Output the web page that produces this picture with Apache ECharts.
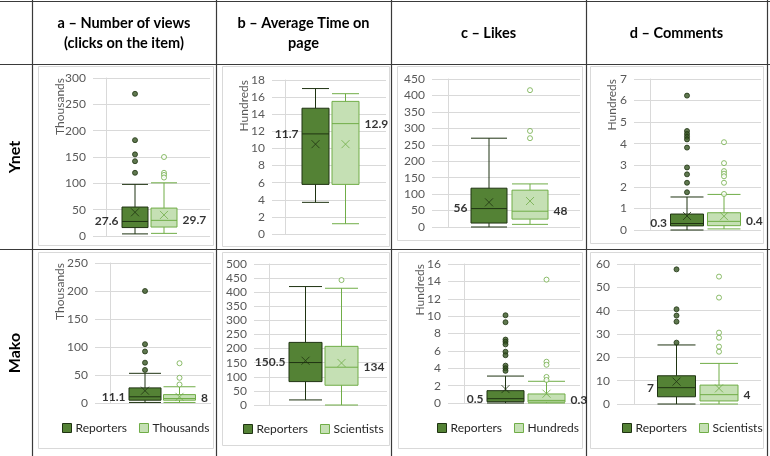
<!DOCTYPE html>
<html>
<head>
<meta charset="utf-8">
<script src="https://cdn.jsdelivr.net/npm/echarts@6/dist/echarts.min.js"></script>
<style>
html, body { margin: 0; padding: 0; background: #fff; }
#chart { width: 770px; height: 456px; }
</style>
</head>
<body>
<div id="chart"></div>
<script>
var siteNames = ['Ynet', 'Mako'];
var columnTitles = ['a – Number of views\n(clicks on the item)', 'b – Average Time on\npage', 'c – Likes', 'd – Comments'];

// box values are [min, Q1, median, Q3, max]: reporters first, scientists second
var ynetViewsBox = [[4, 16, 27.6, 55, 98], [5, 17, 29.7, 53, 101]];
var ynetViewsMean = [45, 40];
var ynetViewsOutRep = [270, 182, 155, 142, 120];
var ynetViewsOutSci = [150, 120, 116, 111];

var ynetTimeBox = [[3.7, 5.8, 11.7, 14.7, 17.0], [1.2, 5.8, 12.9, 15.5, 16.4]];
var ynetTimeMean = [10.5, 10.5];
var ynetTimeOutRep = [];
var ynetTimeOutSci = [];

var ynetLikesBox = [[0, 12, 56, 118, 270], [8, 24, 48, 112, 131]];
var ynetLikesMean = [75, 79];
var ynetLikesOutRep = [];
var ynetLikesOutSci = [416, 292, 270];

var ynetCommBox = [[0, 0.19, 0.3, 0.74, 1.53], [0.05, 0.2, 0.4, 0.8, 1.65]];
var ynetCommMean = [0.65, 0.64];
var ynetCommOutRep = [6.23, 4.59, 4.45, 4.32, 4.2, 3.82, 2.9, 2.58, 2.19, 1.75];
var ynetCommOutSci = [4.07, 3.1, 2.73, 2.61, 2.49, 2.19, 1.67];

var makoViewsBox = [[1, 5, 11.1, 27, 53], [1, 5, 8, 15, 29]];
var makoViewsMean = [22, 11];
var makoViewsOutRep = [200, 105, 92, 72, 59];
var makoViewsOutSci = [71, 45, 33];

var makoTimeBox = [[18, 83, 150.5, 222, 420], [0, 70, 134, 208, 414]];
var makoTimeMean = [157, 149];
var makoTimeOutRep = [];
var makoTimeOutSci = [443];

var makoLikesBox = [[0, 0.15, 0.5, 1.42, 3.1], [0, 0.1, 0.3, 1.04, 2.5]];
var makoLikesMean = [1.6, 1.07];
var makoLikesOutRep = [10.1, 9.3, 7.3, 7.05, 6.75, 5.9, 5.5, 4.3, 4.0, 3.7];
var makoLikesOutSci = [14.2, 4.75, 4.4, 3.0, 2.65];

var makoCommBox = [[0, 3.1, 7, 12.1, 25.3], [0, 1.3, 4, 8.1, 17.4]];
var makoCommMean = [9.6, 6.7];
var makoCommOutRep = [57.7, 40.6, 37.9, 35.3, 26.3];
var makoCommOutSci = [54.6, 45.6, 30.6, 28.4, 24.6, 22.4];

var darkFill = '#548235', darkLine = '#1f3312';
var lightFill = '#c5e0b4', lightLine = '#70ad47';
var font = 'Lato';

// plot = [left, top, right, bottom] in px, centers = box centres, area = chart frame
var panels = [
    {box: ynetViewsBox, mean: ynetViewsMean, out: [ynetViewsOutRep, ynetViewsOutSci], yMax: 300, yStep: 50,
     unit: 'Thousands', plot: [93, 78, 210, 236], centers: [135, 164], bw: 26, area: [38, 66, 213, 245]},
    {box: ynetTimeBox, mean: ynetTimeMean, out: [ynetTimeOutRep, ynetTimeOutSci], yMax: 18, yStep: 2,
     unit: 'Hundreds', plot: [272, 80, 386, 234], centers: [315.5, 345.5], bw: 27, area: [222, 66, 389, 246]},
    {box: ynetLikesBox, mean: ynetLikesMean, out: [ynetLikesOutRep, ynetLikesOutSci], yMax: 450, yStep: 50,
     unit: '', plot: [432, 79, 580, 227], centers: [489, 530], bw: 36, area: [397, 66, 582, 240]},
    {box: ynetCommBox, mean: ynetCommMean, out: [ynetCommOutRep, ynetCommOutSci], yMax: 7, yStep: 1,
     unit: 'Hundreds', plot: [634, 79, 761, 230], centers: [687, 724], bw: 33, area: [590, 66, 763, 243]},
    {box: makoViewsBox, mean: makoViewsMean, out: [makoViewsOutRep, makoViewsOutSci], yMax: 250, yStep: 50,
     unit: 'Thousands', plot: [95, 263, 211, 403], centers: [145, 179.5], bw: 32, area: [38, 252, 213, 448],
     legend: [62, 422], sciName: 'Thousands'},
    {box: makoTimeBox, mean: makoTimeMean, out: [makoTimeOutRep, makoTimeOutSci], yMax: 500, yStep: 50,
     unit: '', plot: [254, 264, 387, 405], centers: [305.5, 341.5], bw: 33, area: [222, 252, 389, 445],
     legend: [243, 423], sciName: 'Scientists'},
    {box: makoLikesBox, mean: makoLikesMean, out: [makoLikesOutRep, makoLikesOutSci], yMax: 16, yStep: 2,
     unit: 'Hundreds', plot: [448, 264, 580, 403], centers: [505.5, 546.5], bw: 37, area: [398, 252, 582, 448],
     legend: [437, 422], sciName: 'Hundreds'},
    {box: makoCommBox, mean: makoCommMean, out: [makoCommOutRep, makoCommOutSci], yMax: 60, yStep: 10,
     unit: '', plot: [617, 264, 761, 404], centers: [676.5, 719], bw: 38, area: [590, 252, 763, 448],
     legend: [622, 422], sciName: 'Scientists'}
];

var grids = [], xAxes = [], yAxes = [], series = [], legends = [], graphics = [];

panels.forEach(function (p, i) {
    var unitPx = p.centers[1] - p.centers[0];
    var xMin = 1 - (p.centers[0] - p.plot[0]) / unitPx;
    var xMax = 1 + (p.plot[2] - p.centers[0]) / unitPx;
    var sciName = p.sciName || 'Scientists';

    grids.push({left: p.plot[0], top: p.plot[1], width: p.plot[2] - p.plot[0], height: p.plot[3] - p.plot[1]});
    for (var k = 0; k < 2; k++) {
        xAxes.push({gridIndex: i, type: 'value', min: xMin, max: xMax, show: false});
    }
    yAxes.push({
        gridIndex: i, type: 'value', min: 0, max: p.yMax, interval: p.yStep,
        axisLine: {show: true, lineStyle: {color: '#d9d9d9'}},
        axisTick: {show: false},
        splitLine: {show: true, lineStyle: {color: '#d9d9d9', width: 1}},
        axisLabel: {color: '#595959', fontFamily: font, fontSize: 12, margin: 7}
    });

    var styles = [
        {name: 'Reporters', fill: darkFill, line: darkLine, x: 1, outFill: '#375623'},
        {name: sciName, fill: lightFill, line: lightLine, x: 2, outFill: '#ffffff'}
    ];
    styles.forEach(function (s, j) {
        var xi = 2 * i + j;
        series.push({
            type: 'boxplot', name: s.name, xAxisIndex: xi, yAxisIndex: i,
            boxWidth: [p.bw, p.bw], silent: true, z: 2,
            itemStyle: {color: s.fill, borderColor: s.line, borderWidth: 1},
            data: [[s.x].concat(p.box[j])]
        });
        series.push({
            type: 'scatter', xAxisIndex: xi, yAxisIndex: i, silent: true, z: 3,
            symbol: 'circle', symbolSize: 5,
            itemStyle: {color: s.outFill, borderColor: s.line, borderWidth: 1},
            data: p.out[j].map(function (v) { return [s.x, v]; })
        });
        series.push({
            type: 'scatter', xAxisIndex: xi, yAxisIndex: i, silent: true, z: 4,
            symbol: 'path://M0,0L10,10M10,0L0,10', symbolSize: 8,
            itemStyle: {color: 'rgba(0,0,0,0)', borderColor: s.line, borderWidth: 1},
            data: [[s.x, p.mean[j]]]
        });
        series.push({
            type: 'scatter', xAxisIndex: xi, yAxisIndex: i, silent: true, z: 5,
            symbol: 'circle', symbolSize: 1,
            itemStyle: {color: 'rgba(0,0,0,0)'},
            label: {
                show: true, position: j === 0 ? 'left' : 'right',
                distance: p.bw / 2 + (j === 0 ? 3 : 5),
                fontFamily: font, fontWeight: 'bold', fontSize: 12, color: '#000',
                formatter: function (d) { return String(d.value[1]); }
            },
            data: [[s.x, p.box[j][2]]]
        });
    });

    if (p.legend) {
        legends.push({
            left: p.legend[0], top: p.legend[1], width: 220, padding: 0, orient: 'horizontal',
            icon: 'rect', itemWidth: 9, itemHeight: 9, itemGap: 12, selectedMode: false,
            textStyle: {fontFamily: font, fontSize: 12, color: '#262626', padding: [0, 0, 0, -1]},
            data: [
                {name: 'Reporters', itemStyle: {color: darkFill, borderColor: darkLine, borderWidth: 1}},
                {name: sciName, itemStyle: {color: lightFill, borderColor: lightLine, borderWidth: 1}}
            ]
        });
    }

    // chart frame
    graphics.push({
        type: 'rect', silent: true, z: -1,
        shape: {x: p.area[0] + 0.5, y: p.area[1] + 0.5, width: p.area[2] - p.area[0], height: p.area[3] - p.area[1]},
        style: {fill: 'none', stroke: '#d9d9d9', lineWidth: 1}
    });
    if (p.unit) {
        graphics.push({
            type: 'text', silent: true, x: p.area[0] + 22, y: p.plot[1], rotation: Math.PI / 2,
            style: {text: p.unit, x: 0, y: 0, font: '12px ' + font, fill: '#595959', align: 'right', verticalAlign: 'middle'}
        });
    }
});

// table lines
var colX = [32, 216, 391, 586, 767];
var rowY = [1, 64, 249];
colX.forEach(function (x) {
    graphics.push({type: 'line', silent: true, shape: {x1: x + 0.5, y1: 0, x2: x + 0.5, y2: 456},
        style: {stroke: '#3a3a3a', lineWidth: 1.2}});
});
rowY.forEach(function (y) {
    graphics.push({type: 'line', silent: true, shape: {x1: 0, y1: y + 0.5, x2: 770, y2: y + 0.5},
        style: {stroke: '#3a3a3a', lineWidth: 1.2}});
});

// column headers
columnTitles.forEach(function (t, c) {
    graphics.push({
        type: 'text', silent: true,
        style: {text: t, x: (colX[c] + colX[c + 1]) / 2, y: 33, font: 'bold 14.5px ' + font, fill: '#000',
            align: 'center', verticalAlign: 'middle', lineHeight: 20}
    });
});

// row labels
var rowCenters = [157, 353];
siteNames.forEach(function (s, r) {
    graphics.push({
        type: 'text', silent: true, x: 15, y: rowCenters[r], rotation: Math.PI / 2,
        style: {text: s, x: 0, y: 0, font: 'bold 16px ' + font, fill: '#000', align: 'center', verticalAlign: 'middle'}
    });
});

var chart = echarts.init(document.getElementById('chart'));
chart.setOption({
    backgroundColor: '#fff',
    animation: false,
    grid: grids,
    xAxis: xAxes,
    yAxis: yAxes,
    legend: legends,
    series: series,
    graphic: graphics
});
</script>
</body>
</html>
